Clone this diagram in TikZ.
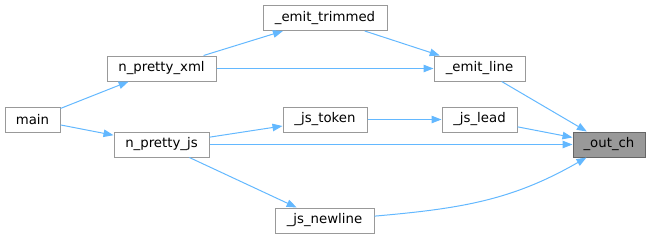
\documentclass[tikz,border=0pt]{standalone}
\usepackage{fontspec}
\setmainfont{DejaVu Sans}
\usetikzlibrary{positioning,arrows.meta}
\definecolor{edgeblue}{HTML}{63B8FF}
\definecolor{boxline}{HTML}{999999}
\definecolor{rootfill}{HTML}{999999}
\definecolor{rootline}{HTML}{666666}

\begin{document}
\begin{tikzpicture}[
  x=1pt, y=-1pt,
  font=\fontsize{13.3}{15}\selectfont,
  fn/.style={draw=boxline, fill=white, line width=1pt, minimum height=25pt,
             inner sep=0pt, anchor=center},
  root/.style={fn, draw=rootline, fill=rootfill},
  arr/.style={-{Triangle[length=10pt, width=7.5pt]}, edgeblue, line width=1pt},
]
\useasboundingbox (0,0) rectangle (651,239);

% ---- callers, left to right ----
\node[fn, minimum width=55pt]  (main)    at (32.5,119.5) {main};
\node[fn, minimum width=109pt] (xml)     at (161.5,68.5) {n\_pretty\_xml};
\node[fn, minimum width=95pt]  (js)      at (161.5,144.5) {n\_pretty\_js};
\node[fn, minimum width=124pt] (trim)    at (325,18)     {\_emit\_trimmed};
\node[fn, minimum width=84pt]  (jstok)   at (325,119.5)  {\_js\_token};
\node[fn, minimum width=99pt]  (jsnl)    at (324.5,220.5) {\_js\_newline};
\node[fn, minimum width=91pt]  (line)    at (479.5,68.5) {\_emit\_line};
\node[fn, minimum width=75pt]  (jslead)  at (479.5,119.5) {\_js\_lead};
\node[root, minimum width=72pt] (outch)  at (609,144.5)  {\_out\_ch};

% ---- calls ----
\draw[arr] (main) -- (xml);
\draw[arr] (main) -- (js);
\draw[arr] (xml) -- (trim);
\draw[arr] (xml) -- (line);
\draw[arr] (trim) -- (line);
\draw[arr] (js) -- (jstok);
\draw[arr] (js) -- (jsnl);
\draw[arr] (js) -- (outch);
\draw[arr] (jstok) -- (jslead);
\draw[arr] (line) -- (outch);
\draw[arr] (jslead) -- (outch);
\draw[arr] (jsnl) to[out=5, in=-150] (outch);
\end{tikzpicture}
\end{document}
